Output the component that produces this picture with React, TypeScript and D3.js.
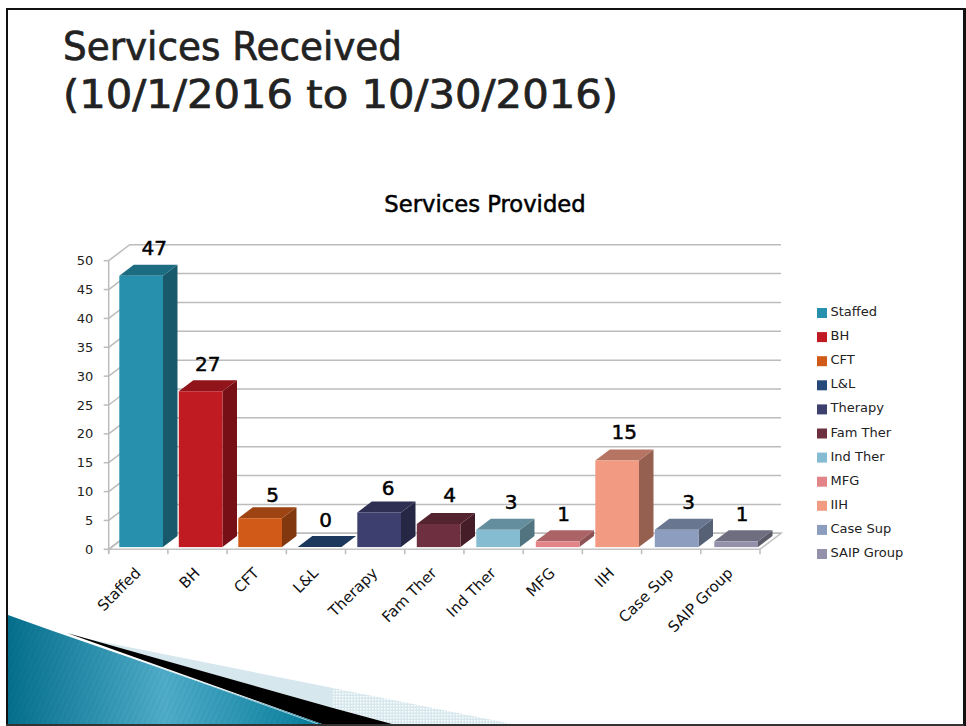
import React from "react";
import * as d3 from "d3";

const categories = ["Staffed", "BH", "CFT", "L&L", "Therapy", "Fam Ther", "Ind Ther", "MFG", "IIH", "Case Sup", "SAIP Group"];
const values = [47, 27, 5, 0, 6, 4, 3, 1, 15, 3, 1];
const colors = ["#2791ad", "#c01a23", "#d15a18", "#254a7a", "#3d3f6e", "#6e2f40", "#85bcd1", "#e38488", "#f29b82", "#8c9dbf", "#9392aa"];
const yTicks = [0, 5, 10, 15, 20, 25, 30, 35, 40, 45, 50];
// nudges of each value label relative to its bar's centre and top
const labelNudgeX = [13, 7, 12.5, 6, 9, 11, 13, 6, 7, 12, 6];
const labelNudgeY = [0, 0, 4, 0, 3, -2, 0, 0, -1, 0, 0];

const FONT = "'DejaVu Sans', Verdana, sans-serif";
const wall = { dx: 21, dy: -16 };
const depth = { dx: 14.5, dy: -11 };
const x = d3.scaleBand<string>().domain(categories).range([108.7, 760]);
const xBar = d3.scaleBand<string>().domain(categories).range([119.3, 119.3 + 59.5 * 11]);
const y = d3.scaleLinear().domain([0, 50]).range([549.3, 260.7]);
const barW = 43.7;
const barLift = 2.2;
const pts = (a: number[][]) => a.map((p) => p.join(",")).join(" ");
const shade = (c: string, k: number) => d3.rgb(c).darker(k).formatHex();
const legendY = d3.scalePoint<string>().domain(categories).range([311, 552]);

export default function App() {
  const x0 = x.range()[0], x1 = x.range()[1];
  return (
    <svg width={966} height={726} style={{ position: "absolute", left: 0, top: 0 }} fontFamily={FONT}>
      <defs>
        <linearGradient id="teal" x1="0" x2="1" y1="0" y2="0">
          <stop offset="0" stopColor="#04708e" />
          <stop offset="0.5" stopColor="#50aeca" />
          <stop offset="1" stopColor="#047d9c" />
        </linearGradient>
        <pattern id="dots" width="3" height="3" patternUnits="userSpaceOnUse">
          <rect width="3" height="3" fill="#d6e7ee" />
          <rect width="1.5" height="1.5" fill="#ffffff" />
        </pattern>
        <pattern id="stripes" width="5" height="5" patternUnits="userSpaceOnUse" patternTransform="rotate(25)">
          <rect width="2.5" height="5" fill="#000" fillOpacity="0.035" />
        </pattern>
      </defs>
      <rect width={966} height={726} fill="#fff" />
      {/* decoration */}
      <polygon points="83,638 333,688 333,708" fill="#d6e7ee" />
      <polygon points="333,688 512,724 392,724 333,708" fill="url(#dots)" />
      <polygon points="67,633 333,708 392,724 322,724" fill="#000" />
      <polygon points="8,615 50,630 322,724 8,724" fill="url(#teal)" />
      <polygon points="8,615 50,630 322,724 8,724" fill="url(#stripes)" />
      <line x1={150} y1={664} x2={318} y2={724} stroke="#cfe6ee" strokeWidth={0.8} />

      {/* frame */}
      <line x1={6} x2={966} y1={9} y2={9} stroke="#111" strokeWidth={2} />
      <line x1={7} x2={7} y1={8} y2={726} stroke="#111" strokeWidth={2} />
      <line x1={964.5} x2={964.5} y1={8} y2={726} stroke="#111" strokeWidth={3} />
      <line x1={6} x2={964} y1={725} y2={725} stroke="#333" strokeWidth={2} />

      {/* titles */}
      <text x={63} y={60} fontSize={39} fill="#222" stroke="#222" strokeWidth={0.7} textLength={339} lengthAdjust="spacingAndGlyphs">Services Received</text>
      <text x={63} y={108} fontSize={39} fill="#222" stroke="#222" strokeWidth={0.7} textLength={555} lengthAdjust="spacingAndGlyphs">(10/1/2016 to 10/30/2016)</text>
      <text x={485} y={212} fontSize={22.7} textAnchor="middle" fill="#000" stroke="#000" strokeWidth={0.5}>Services Provided</text>

      {/* floor and walls */}
      <polygon
        points={pts([[x0, y(0)], [x1, y(0)], [x1 + wall.dx, y(0) + wall.dy], [x0 + wall.dx, y(0) + wall.dy]])}
        fill="#fff" stroke="#c4c4c4" strokeWidth={1.6}
      />
      {yTicks.map((t) => (
        <g key={t}>
          <polyline
            points={pts([[x0, y(t)], [x0 + wall.dx, y(t) + wall.dy], [x1 + wall.dx, y(t) + wall.dy]])}
            fill="none" stroke="#bcbcbc" strokeWidth={1.5}
          />
          <line x1={x0 - 5} x2={x0} y1={y(t)} y2={y(t)} stroke="#bcbcbc" strokeWidth={1.5} />
          <text x={x0 - 15.5} y={y(t) + 4.5} fontSize={13} textAnchor="end" fill="#222">{t}</text>
        </g>
      ))}
      <line x1={x0} x2={x0} y1={y(0) + 4} y2={y(50)} stroke="#bcbcbc" strokeWidth={1.5} />
      {[...categories.map((c) => x(c) as number), x1].map((tx) => (
        <line key={tx} x1={tx} x2={tx} y1={y(0)} y2={y(0) + 5} stroke="#bcbcbc" strokeWidth={1.5} />
      ))}

      {/* bars */}
      {categories.map((c, i) => {
        const l = xBar(c) as number;
        const r = l + barW;
        const b = y(0) - barLift;
        const t = y(values[i]) - barLift;
        return (
          <g key={c}>
            <polygon points={pts([[r, b], [r + depth.dx, b + depth.dy], [r + depth.dx, t + depth.dy], [r, t]])} fill={shade(colors[i], 1.35)} />
            <polygon points={pts([[l, t], [r, t], [r + depth.dx, t + depth.dy], [l + depth.dx, t + depth.dy]])} fill={shade(colors[i], 0.8)} />
            <rect x={l} y={t} width={barW} height={b - t} fill={colors[i]} />
            <text x={l + barW / 2 + labelNudgeX[i]} y={t - 20.5 + labelNudgeY[i]} fontSize={20} textAnchor="middle" fill="#000" stroke="#000" strokeWidth={0.5}>{values[i]}</text>
          </g>
        );
      })}

      {/* category labels */}
      {categories.map((c) => {
        const cx = (x(c) as number) + 25;
        return (
          <text key={c} transform={`translate(${cx},566) rotate(-45)`} fontSize={15} textAnchor="end" dominantBaseline="hanging" fill="#111">{c}</text>
        );
      })}

      {/* legend */}
      {categories.map((c, i) => (
        <g key={c}>
          <rect x={817} y={(legendY(c) as number) - 3} width={10} height={10} fill={colors[i]} />
          <text x={830.5} y={(legendY(c) as number) + 5} fontSize={13} fill="#222">{c}</text>
        </g>
      ))}
    </svg>
  );
}
